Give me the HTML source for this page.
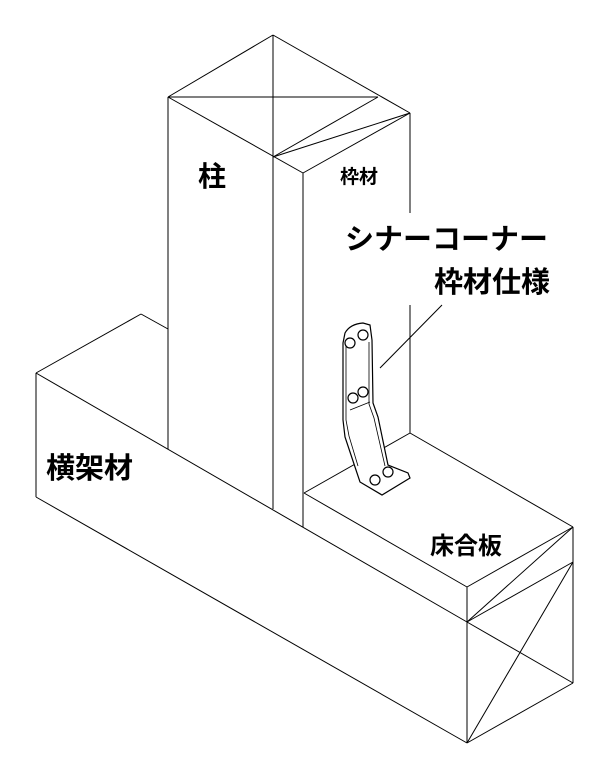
<!DOCTYPE html>
<html><head><meta charset="utf-8"><style>
html,body{margin:0;padding:0;background:#fff;}
svg{display:block;}
text{font-family:"Liberation Sans","Noto Sans CJK JP",sans-serif;font-weight:bold;fill:#000;}
</style></head><body>
<svg width="604" height="779" viewBox="0 0 604 779" xmlns="http://www.w3.org/2000/svg">
<g stroke="#000" stroke-width="1" fill="none">
<!-- post top -->
<line x1="168" y1="97" x2="273" y2="35"/>
<line x1="273" y1="35" x2="410" y2="113"/>
<line x1="168" y1="97" x2="378" y2="97"/>
<line x1="168" y1="97" x2="303" y2="173"/>
<line x1="303" y1="173" x2="410" y2="113"/>
<line x1="273" y1="157" x2="378" y2="97"/>
<line x1="273" y1="157" x2="410" y2="113"/>
<!-- post verticals -->
<line x1="273" y1="35" x2="273" y2="509"/>
<line x1="168" y1="97" x2="168" y2="449"/>
<line x1="303" y1="173" x2="303" y2="527"/>
<line x1="410" y1="113" x2="410" y2="213"/>
<line x1="410" y1="305" x2="410" y2="433"/>
<!-- beam -->
<line x1="36" y1="373" x2="141" y2="314"/>
<line x1="141" y1="314" x2="168" y2="329"/>
<line x1="36" y1="373" x2="36" y2="497"/>
<line x1="36" y1="373" x2="467" y2="622"/>
<line x1="36" y1="497" x2="467" y2="743"/>
<!-- floor plate -->
<line x1="304" y1="493" x2="410" y2="433"/>
<line x1="410" y1="433" x2="573" y2="527"/>
<line x1="573" y1="527" x2="467" y2="587"/>
<line x1="304" y1="493" x2="467" y2="587"/>
<line x1="467" y1="587" x2="467" y2="743"/>
<line x1="573" y1="527" x2="573" y2="683"/>
<line x1="467" y1="743" x2="573" y2="683"/>
<line x1="573" y1="562" x2="467" y2="622"/>
<line x1="573" y1="527" x2="467" y2="622"/>
<line x1="467" y1="622" x2="573" y2="683"/>
<line x1="467" y1="743" x2="573" y2="562"/>
<!-- leader -->
<line x1="442" y1="305" x2="380" y2="368"/>
</g>
<!-- bracket -->
<g stroke="#000" stroke-width="1.2" fill="#fff">
<path d="M343,343 L345,333 Q350,324 363,323 L370,325 L372,340 L373,403 L378,417 L388,465 L408,473 L410,478 L382,495 L360,482 L355,467 L345,437 L343,420 Z"/>
<path d="M346,345 L346,420 L349,436 L358,466 M369,342 L369,404 L374,418 L385,466" fill="none" stroke-width="0.8"/>
<line x1="350" y1="410" x2="370" y2="402" stroke-width="0.8"/>
<circle cx="350" cy="343" r="5"/><circle cx="363" cy="335" r="5"/>
<circle cx="353" cy="398" r="5"/><circle cx="363" cy="392" r="5"/>
<circle cx="375" cy="480" r="5"/><circle cx="388" cy="472" r="5"/>
</g>
<text x="198" y="186" font-size="28">柱</text>
<text x="340" y="183" font-size="19">枠材</text>
<text x="345" y="249" font-size="29">シナーコーナー</text>
<text x="434" y="292" font-size="29">枠材仕様</text>
<text x="46" y="478" font-size="29">横架材</text>
<text x="430" y="554" font-size="24">床合板</text>
</svg>
</body></html>
